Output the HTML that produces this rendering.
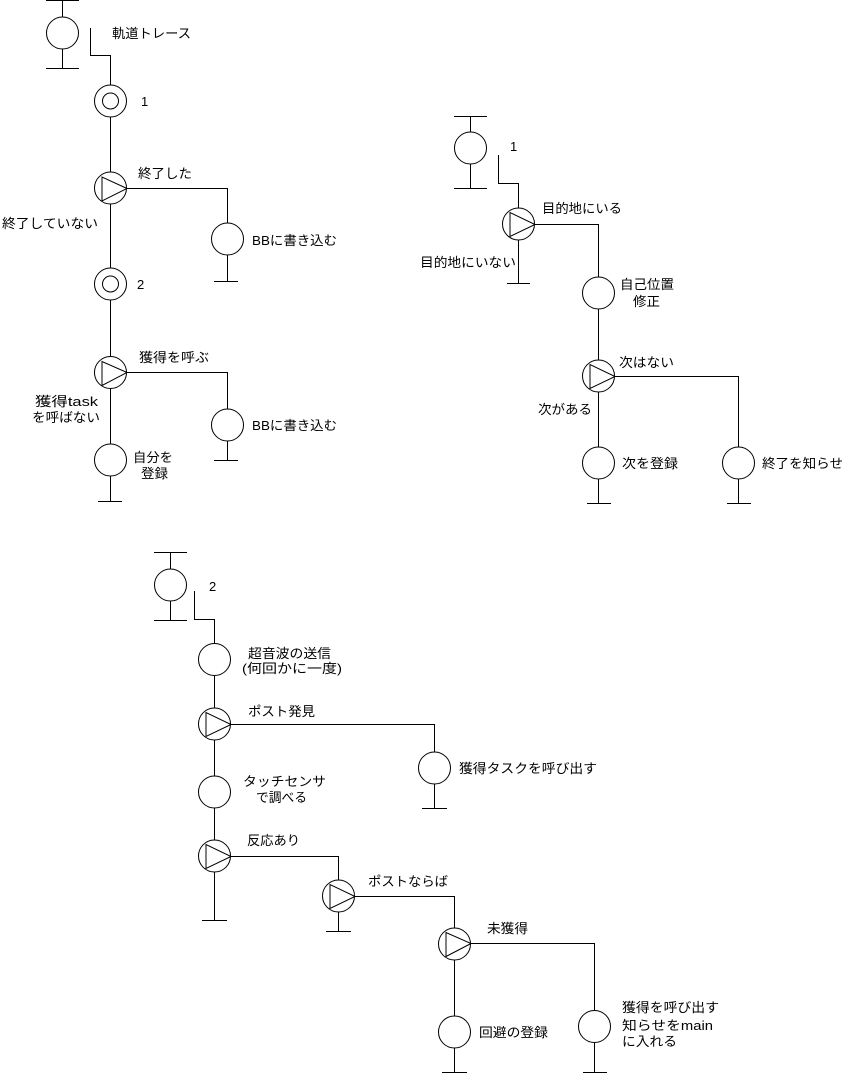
<!DOCTYPE html>
<html><head><meta charset="utf-8"><style>
html,body{margin:0;padding:0;background:#fff;}
svg{display:block;}
text{font-family:"Liberation Sans","Noto Sans CJK JP",sans-serif;font-size:13px;fill:#000;}
</style></head><body>
<svg width="848" height="1073" viewBox="0 0 848 1073" xmlns="http://www.w3.org/2000/svg">
<g fill="none" stroke="#000" stroke-width="1">
<!-- top-left -->
<path shape-rendering="crispEdges" d="M46 0.5H79M62.5 0V17M62.5 49V68M46 68.5H79M90.5 28V55.5H110.5V85M110.5 117V172M127 188.5H227.5V223M227.5 255V281M214 281.5H238M110.5 204V268M110.5 300V357M127 372.5H227.5V409M227.5 441V460M214 460.5H238M110.5 389V444M110.5 476V501M98 501.5H122"/>
<circle cx="62.5" cy="33" r="16"/>
<circle cx="110.5" cy="101" r="16"/><circle cx="110.5" cy="101" r="8"/>
<circle cx="110.5" cy="188" r="16"/><path d="M102 177V201L127 188.5Z"/>
<circle cx="227.5" cy="239" r="16"/>
<circle cx="110.5" cy="284" r="16"/><circle cx="110.5" cy="284" r="8"/>
<circle cx="110.5" cy="372.5" r="16"/><path d="M102 361.5V385.5L127 372.5Z"/>
<circle cx="227.5" cy="425" r="16"/>
<circle cx="110.5" cy="460" r="16"/>
<!-- top-right -->
<path shape-rendering="crispEdges" d="M454 116.5H487M470.5 116V132M470.5 164V188M454 188.5H487M498.5 155V183.5H518.5V208M535 224.5H598.5V277M518.5 240V283M507 283.5H530M598.5 309V360M615 376.5H738.5V447M598.5 392V447M598.5 479V503M587 503.5H611M738.5 479V503M727 503.5H751"/>
<circle cx="470.5" cy="148" r="16"/>
<circle cx="518.5" cy="224" r="16"/><path d="M510 212.5V236.5L535 224.5Z"/>
<circle cx="598.5" cy="293" r="16"/>
<circle cx="598.5" cy="376" r="16"/><path d="M590 364.5V388.5L615 376.5Z"/>
<circle cx="598.5" cy="463" r="16"/>
<circle cx="738.5" cy="463" r="16"/>
<!-- bottom -->
<path shape-rendering="crispEdges" d="M154 552.5H187M170.5 552V569M170.5 601V620M154 620.5H187M194.5 591V619.5H214.5V643M214.5 676V708M231 724.5H434.5V752M434.5 784V808M422 808.5H447M214.5 740V776M214.5 808V840M231 856.5H338.5V880M214.5 872V920M202 920.5H227M355 896.5H454.5V928M338.5 912V931M326 931.5H351M471 943.5H594.5V1010M454.5 960V1016M454.5 1048V1072M442 1072.5H467M594.5 1043V1072M583 1072.5H607"/>
<circle cx="170.5" cy="585" r="16"/>
<circle cx="214.5" cy="659.5" r="16"/>
<circle cx="214.5" cy="724" r="16"/><path d="M206 712.5V736.5L231 724.5Z"/>
<circle cx="434.5" cy="768" r="16"/>
<circle cx="214.5" cy="792" r="16"/>
<circle cx="214.5" cy="856" r="16"/><path d="M206 844.5V868.5L231 856.5Z"/>
<circle cx="338.5" cy="896" r="16"/><path d="M330 884.5V908.5L355 896.5Z"/>
<circle cx="454.5" cy="944" r="16"/><path d="M446 932.5V956.5L471 943.5Z"/>
<circle cx="454.5" cy="1032" r="16"/>
<circle cx="594.5" cy="1026.5" r="16"/>
</g>
<g>
<!-- top-left labels -->
<text x="112" y="38" textLength="79" lengthAdjust="spacingAndGlyphs">軌道トレース</text>
<text x="141" y="106">1</text>
<text x="138" y="178" textLength="54" lengthAdjust="spacingAndGlyphs">終了した</text>
<text x="2" y="228" textLength="96" lengthAdjust="spacingAndGlyphs">終了していない</text>
<text x="252" y="245" textLength="85" lengthAdjust="spacingAndGlyphs">BBに書き込む</text>
<text x="137" y="289">2</text>
<text x="139" y="362" textLength="70" lengthAdjust="spacingAndGlyphs">獲得を呼ぶ</text>
<text x="35" y="406" textLength="63" lengthAdjust="spacingAndGlyphs">獲得task</text>
<text x="32" y="422" textLength="68" lengthAdjust="spacingAndGlyphs">を呼ばない</text>
<text x="252" y="430" textLength="85" lengthAdjust="spacingAndGlyphs">BBに書き込む</text>
<text x="133" y="462" textLength="40" lengthAdjust="spacingAndGlyphs">自分を</text>
<text x="141" y="478" textLength="27" lengthAdjust="spacingAndGlyphs">登録</text>
<!-- top-right labels -->
<text x="510" y="151">1</text>
<text x="542" y="213" textLength="80" lengthAdjust="spacingAndGlyphs">目的地にいる</text>
<text x="420" y="267" textLength="96" lengthAdjust="spacingAndGlyphs">目的地にいない</text>
<text x="620" y="289" textLength="54" lengthAdjust="spacingAndGlyphs">自己位置</text>
<text x="633" y="306" textLength="27" lengthAdjust="spacingAndGlyphs">修正</text>
<text x="619" y="367" textLength="55" lengthAdjust="spacingAndGlyphs">次はない</text>
<text x="538" y="414" textLength="54" lengthAdjust="spacingAndGlyphs">次がある</text>
<text x="622" y="468" textLength="56" lengthAdjust="spacingAndGlyphs">次を登録</text>
<text x="762" y="468" textLength="81" lengthAdjust="spacingAndGlyphs">終了を知らせ</text>
<!-- bottom labels -->
<text x="209" y="591">2</text>
<text x="248" y="658" textLength="83" lengthAdjust="spacingAndGlyphs">超音波の送信</text>
<text x="242" y="673" textLength="100" lengthAdjust="spacingAndGlyphs">(何回かに一度)</text>
<text x="248" y="716" textLength="67" lengthAdjust="spacingAndGlyphs">ポスト発見</text>
<text x="459" y="773" textLength="138" lengthAdjust="spacingAndGlyphs">獲得タスクを呼び出す</text>
<text x="243" y="786" textLength="83" lengthAdjust="spacingAndGlyphs">タッチセンサ</text>
<text x="256" y="802" textLength="51" lengthAdjust="spacingAndGlyphs">で調べる</text>
<text x="247" y="845" textLength="53" lengthAdjust="spacingAndGlyphs">反応あり</text>
<text x="368" y="886" textLength="80" lengthAdjust="spacingAndGlyphs">ポストならば</text>
<text x="487" y="933" textLength="41" lengthAdjust="spacingAndGlyphs">未獲得</text>
<text x="479" y="1037" textLength="69" lengthAdjust="spacingAndGlyphs">回避の登録</text>
<text x="622" y="1012" textLength="97" lengthAdjust="spacingAndGlyphs">獲得を呼び出す</text>
<text x="622" y="1030" textLength="91" lengthAdjust="spacingAndGlyphs">知らせをmain</text>
<text x="622" y="1046" textLength="55" lengthAdjust="spacingAndGlyphs">に入れる</text>
</g>
</svg>
</body></html>
